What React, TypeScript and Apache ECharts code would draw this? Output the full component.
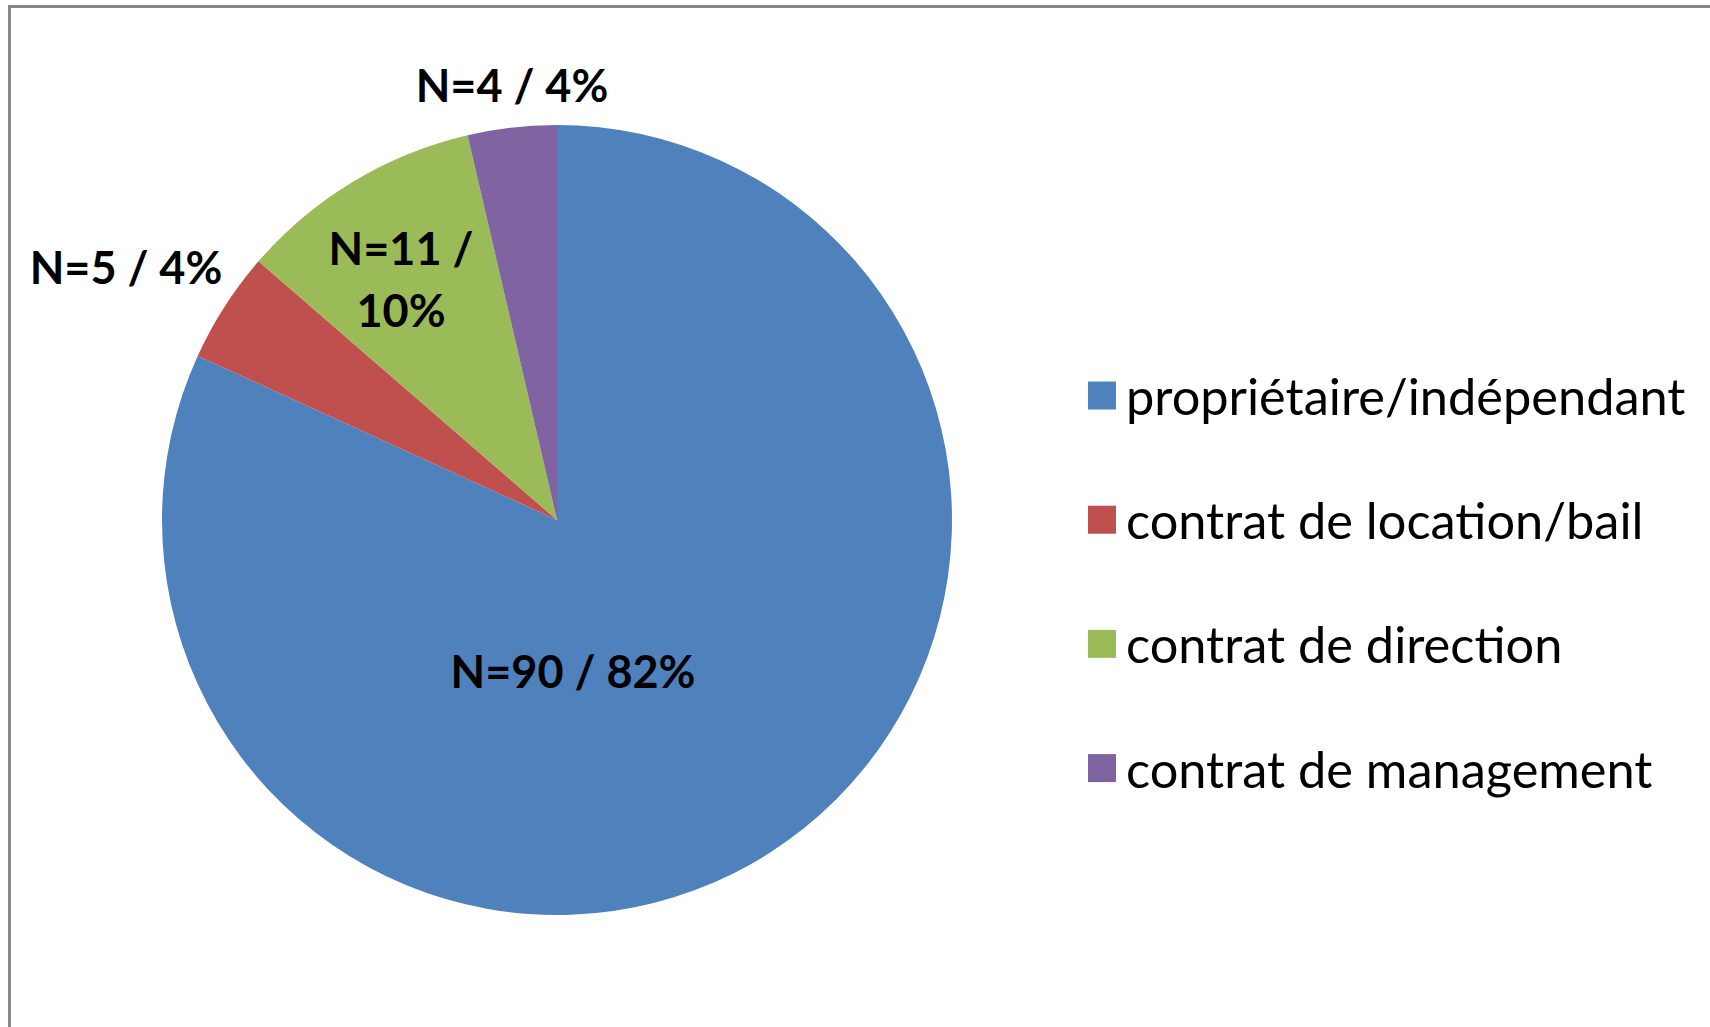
import React, { useEffect, useRef } from "react";
import * as echarts from "echarts";

const categories = [
  "propriétaire/indépendant",
  "contrat de location/bail",
  "contrat de direction",
  "contrat de management",
];
const counts = [90, 5, 11, 4];
const percents = [82, 4, 10, 4];
const colors = ["#4F81BD", "#C0504D", "#9BBB59", "#8064A2"];

// label styling: offset from pie centre (px) and whether to wrap after "/"
const labelOffsets = [
  [16, 151],
  [-431, -253],
  [-156, -241],
  [-45, -435],
];
const labelWrap = [false, false, true, false];

const CX = 557;
const CY = 520;
const R = 395;

export default function App() {
  const ref = useRef<HTMLDivElement>(null);
  useEffect(() => {
    if (!ref.current) return;
    const chart = echarts.init(ref.current, null, { renderer: "svg" });
    chart.setOption({
      animation: false,
      backgroundColor: "#ffffff",
      graphic: [
        {
          type: "rect",
          shape: { x: 9.5, y: 6.5, width: 1800, height: 1200 },
          style: { fill: "none", stroke: "#888888", lineWidth: 3 },
          silent: true,
        },
      ],
      legend: {
        orient: "vertical",
        left: 1088,
        top: 370,
        padding: 0,
        itemWidth: 28,
        itemHeight: 28,
        itemGap: 73.2,
        icon: "rect",
        data: categories,
        textStyle: {
          fontFamily: "Lato",
          fontSize: 50.5,
          lineHeight: 50,
          color: "#000000",
          padding: [0, 0, 0, 5],
        },
      },
      series: [
        {
          type: "pie",
          center: [CX, CY],
          radius: R,
          startAngle: 90,
          clockwise: true,
          color: colors,
          itemStyle: { borderWidth: 0 },
          labelLine: { show: false },
          label: {
            show: true,
            position: "inside",
            fontFamily: "Lato",
            fontWeight: "bold",
            fontSize: 45,
            lineHeight: 62,
            color: "#000000",
            formatter: (p: any) => {
              const i = p.dataIndex;
              return `N=${counts[i]} /${labelWrap[i] ? "\n" : " "}${percents[i]}%`;
            },
          },
          labelLayout: (p: any) => {
            const o = labelOffsets[p.dataIndex];
            return {
              x: CX + o[0],
              y: CY + o[1],
              align: "center",
              verticalAlign: "middle",
            };
          },
          data: categories.map((name, i) => ({ name, value: counts[i] })),
        },
      ],
    });
    return () => chart.dispose();
  }, []);
  return (
    <div
      ref={ref}
      style={{ position: "absolute", left: 0, top: 0, width: 1710, height: 1027 }}
    />
  );
}
